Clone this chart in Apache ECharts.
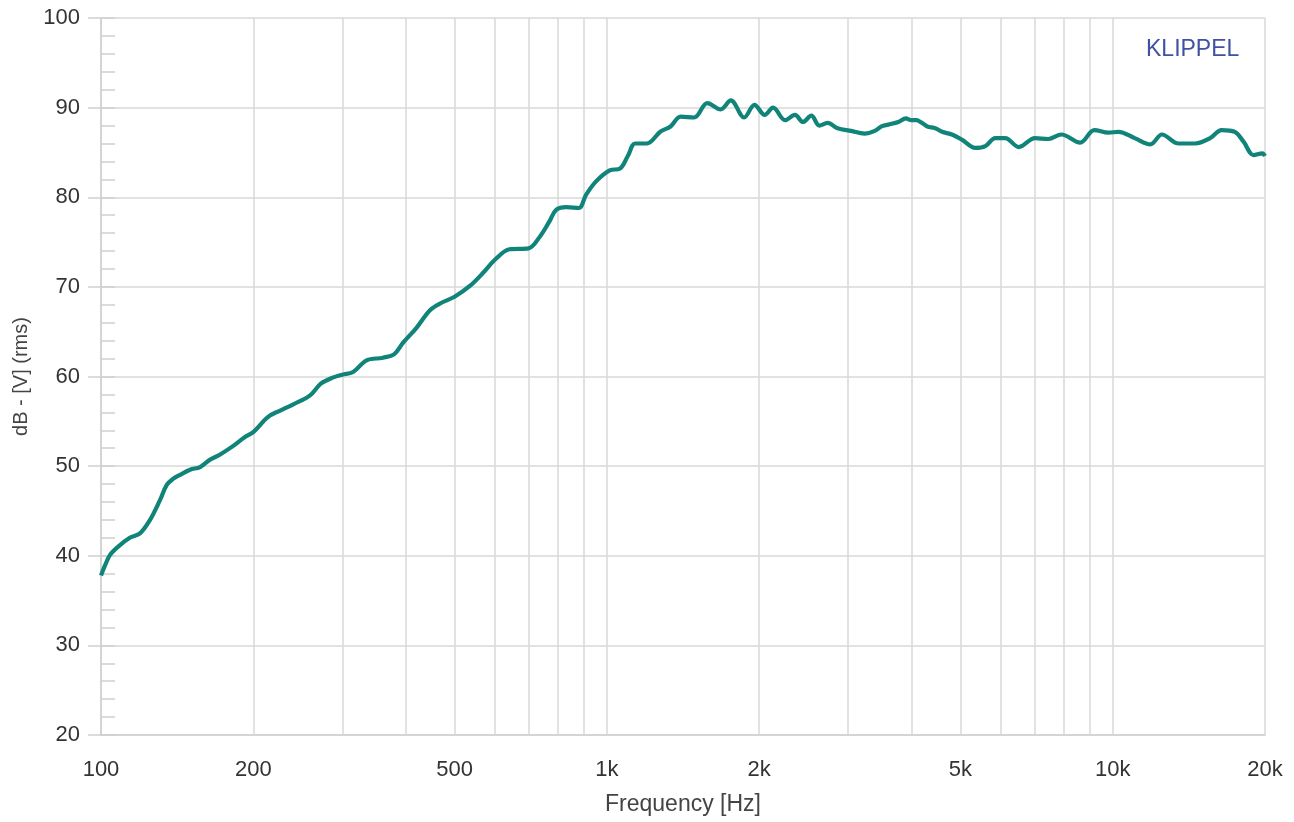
<!DOCTYPE html>
<html>
<head>
<meta charset="utf-8">
<script src="https://cdn.jsdelivr.net/npm/echarts@6/dist/echarts.min.js"></script>
<style>
html,body{margin:0;padding:0;background:#fff;}
#chart{width:1294px;height:822px;}
</style>
</head>
<body>
<div id="chart"></div>
<script>
// Frequency [Hz]
const freq = [100,102,104.2,108,114,119.4,125,130.8,134.9,139,143,150,157,164,172,182,192,200,214,226,240,259,272,288,300,315,335,361,380,396,420,447,470,500,536,570,600,642,700,737,770,794,832,880,910,953,1013,1062,1100,1138,1200,1275,1336,1399,1487,1580,1679,1758,1868,1958,2051,2131,2250,2355,2441,2536,2631,2731,2858,3040,3230,3386,3490,3600,3769,3900,4000,4090,4196,4300,4459,4600,4810,5040,5350,5600,5860,6130,6520,7020,7460,7920,8620,9200,9800,10260,11050,11870,12510,13500,14560,15580,16410,17430,18140,18990,19760,20000];
// SPL dB
const spl = [37.8,39.0,40.1,41.0,42.0,42.5,44.0,46.2,47.9,48.6,49.0,49.6,49.9,50.7,51.3,52.2,53.2,53.8,55.5,56.2,56.9,57.9,59.2,59.9,60.2,60.5,61.8,62.1,62.5,63.8,65.4,67.4,68.2,68.9,70.1,71.6,73.0,74.2,74.3,75.6,77.3,78.6,78.9,78.8,80.3,81.8,83.0,83.2,84.6,86.0,86.0,87.3,87.9,89.0,88.9,90.5,89.8,90.8,88.9,90.3,89.2,90.0,88.6,89.2,88.4,89.1,88.0,88.3,87.7,87.4,87.1,87.4,87.9,88.1,88.4,88.8,88.6,88.6,88.3,87.9,87.7,87.3,87.0,86.4,85.5,85.7,86.6,86.6,85.6,86.6,86.5,87.0,86.1,87.5,87.2,87.3,86.6,85.9,87.0,86.0,86.0,86.6,87.5,87.3,86.2,84.7,84.9,84.6];
const xLabelValues = [100,200,500,1000,2000,5000,10000,20000];
const xGridValues = [100,200,300,400,500,600,700,800,900,1000,2000,3000,4000,5000,6000,7000,8000,9000,10000,20000];
const xName = 'Frequency [Hz]';
const yName = 'dB - [V] (rms)';
const brand = 'KLIPPEL';

const FONT = "'Liberation Sans', Arial, sans-serif";
const chart = echarts.init(document.getElementById('chart'));
const gridColor = '#d8d8d8';
chart.setOption({
  animation: false,
  backgroundColor: '#fff',
  textStyle: {fontFamily: FONT},
  grid: {left: 101, right: 29, top: 18, bottom: 87, containLabel: false, outerBoundsMode: 'none'},
  graphic: [{
    type: 'text', left: 1146, top: 38,
    style: {text: brand, fill: '#3f51a0', font: "23px 'Liberation Sans', Arial, sans-serif"}
  }],
  xAxis: {
    type: 'log', logBase: 10, min: 100, max: 20000,
    name: xName, nameLocation: 'middle', nameGap: 58,
    nameTextStyle: {fontSize: 23, color: '#444', fontFamily: FONT},
    axisLine: {show: true, lineStyle: {color: '#cfcfcf', width: 1.5}},
    axisTick: {show: false, customValues: xGridValues},
    axisLabel: {
      customValues: xLabelValues, fontSize: 22, color: '#333', margin: 24, fontFamily: FONT,
      formatter: function (v) { const r = Math.round(v); return r >= 1000 ? (r / 1000) + 'k' : String(r); }
    },
    splitLine: {show: true, lineStyle: {color: gridColor, width: 1.5}},
    minorSplitLine: {show: false}
  },
  yAxis: [{
    type: 'value', min: 20, max: 100, interval: 10,
    name: yName, nameLocation: 'middle', nameGap: 70,
    nameTextStyle: {fontSize: 20, color: '#444', fontFamily: FONT},
    axisLine: {show: true, lineStyle: {color: '#cfcfcf', width: 1.5}},
    axisTick: {show: true, inside: false, length: 13, lineStyle: {color: '#cfcfcf', width: 1.5}},
    axisLabel: {fontSize: 22, color: '#333', margin: 21, fontFamily: FONT},
    splitLine: {show: true, lineStyle: {color: gridColor, width: 1.5}}
  }, {
    type: 'value', min: 20, max: 100, interval: 2, position: 'left',
    axisLine: {show: false},
    axisTick: {show: true, inside: true, length: 14, lineStyle: {color: '#cfcfcf', width: 1.5}},
    axisLabel: {show: false},
    splitLine: {show: false}
  }],
  series: [{
    type: 'line', yAxisIndex: 0,
    data: freq.map((f, i) => [f, spl[i]]),
    showSymbol: false, smooth: 0.35,
    lineStyle: {color: '#108479', width: 4.2},
    itemStyle: {color: '#108479'}
  }]
});
</script>
</body>
</html>
